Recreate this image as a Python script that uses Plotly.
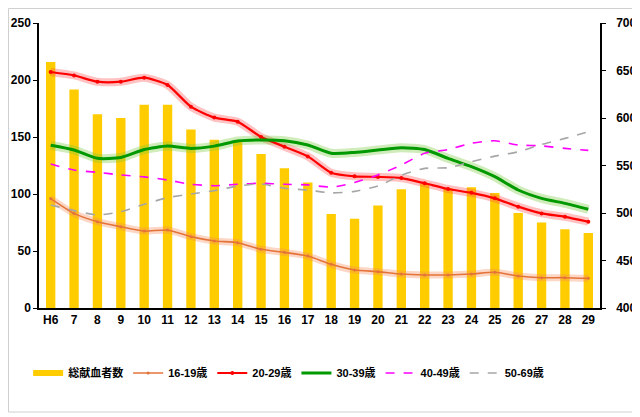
import plotly.graph_objects as go

categories = ["H6", "7", "8", "9", "10", "11", "12", "13", "14", "15", "16", "17",
              "18", "19", "20", "21", "22", "23", "24", "25", "26", "27", "28", "29"]

total_donors = [659, 630, 604, 600, 614, 614, 588, 577, 575, 562, 547, 532,
                499, 494, 508, 525, 531, 526, 527, 521, 500, 490, 483, 479]

age_16_19 = [96, 83, 75.7, 71.3, 67.5, 68.4, 62.6, 58.8, 57.3, 51.5, 48.8, 45.6,
             38.3, 33.3, 31.9, 29.8, 29, 29, 29.8, 31.3, 28, 26.6, 26.6, 26]
age_20_29 = [207, 204, 198.5, 198.5, 202, 195.6, 176.6, 167, 163.4, 150, 141.5, 133,
             118.7, 115.5, 115, 114, 109.4, 104.4, 101, 96.2, 88.9, 83, 80, 75.7]
age_30_39 = [142.7, 138.6, 131.3, 132, 139, 142, 140, 142, 146.5, 147.4, 146.8, 143,
             135.7, 136.5, 138.6, 140.6, 139, 131.3, 124, 115.2, 103.5, 96.2, 91.8, 86.6]
age_40_49 = [126.3, 121, 119, 116.7, 115, 112.3, 108.5, 107.3, 108.5, 109.4, 108.5, 108,
             106, 110, 116.7, 125.4, 135.7, 139, 144.5, 146.7, 143, 142.2, 140, 138.3]
age_50_69 = [90.4, 85.4, 81.6, 84.5, 91, 96.8, 100, 102.9, 107, 108.8, 105, 103.5,
             101, 102.3, 107, 116.5, 122.5, 123, 128.3, 133.2, 137, 143.5, 148.8, 154.5]

FONT = "Liberation Sans, Arial, Noto Sans CJK JP, sans-serif"

fig = go.Figure()

fig.add_trace(go.Bar(
    x=categories, y=total_donors, name="<b>総献血者数</b>",
    marker=dict(color="#FFCC00", line=dict(width=0)),
    yaxis="y", width=0.4, showlegend=False,
))
# legend proxy giving the wide flat swatch for the bars
fig.add_trace(go.Scatter(
    x=[categories[0]], y=[None], mode="lines", name="<b>総献血者数</b>",
    line=dict(color="#FFCC00", width=6), yaxis="y", hoverinfo="skip",
))

glow_specs = [
    (age_16_19, "rgba(245,140,90,0.35)", 7),
    (age_20_29, "rgba(255,80,80,0.35)", 8),
    (age_30_39, "rgba(120,200,60,0.35)", 9),
]
for vals, col, w in glow_specs:
    fig.add_trace(go.Scatter(
        x=categories, y=vals, mode="lines", yaxis="y2",
        line=dict(color=col, width=w, shape="spline", smoothing=0.6),
        showlegend=False, hoverinfo="skip",
    ))

line_specs = [
    ("16-19歳", age_16_19, "#E4733A", 1.6, "solid", 3),
    ("20-29歳", age_20_29, "#FF0000", 2.2, "solid", 4),
    ("30-39歳", age_30_39, "#009900", 3.0, "solid", 0),
    ("40-49歳", age_40_49, "#FF00FF", 1.6, "dash", 0),
    ("50-69歳", age_50_69, "#A6A6A6", 1.6, "dash", 0),
]
for name, vals, col, w, dash, ms in line_specs:
    fig.add_trace(go.Scatter(
        x=categories, y=vals, name="<b>" + name + "</b>", yaxis="y2",
        mode="lines+markers" if ms else "lines",
        line=dict(color=col, width=w, dash=dash, shape="spline", smoothing=0.6),
        marker=dict(size=ms, color=col),
    ))

axis_font = dict(family=FONT, size=12, color="#000000")

# the page body offsets the figure by 8px, so it is sized to fit the 640x417 window
L, R, T, B = 31, 40, 15, 109
W, H = 632, 409
PW, PH = W - L - R, H - T - B
fig.update_layout(
    width=W, height=H,
    margin=dict(l=L, r=R, t=T, b=B, autoexpand=False),
    paper_bgcolor="white", plot_bgcolor="white",
    font=dict(family=FONT, color="#000000"),
    bargap=0.6,
    showlegend=True,
    legend=dict(orientation="h", x=0.445, xanchor="center", y=-0.228, yanchor="middle",
                font=dict(family=FONT, size=11, color="#000000"),
                itemwidth=30, traceorder="normal", tracegroupgap=0),
    xaxis=dict(type="category", range=[-0.5, 23.5], showline=True, linecolor="#000000",
               linewidth=1.5, ticks="", tickfont=axis_font, showgrid=False, zeroline=False,
               tickprefix="<b>", ticksuffix="</b>"),
    yaxis=dict(side="right", range=[400, 700], dtick=50, showline=True,
               linecolor="#000000", linewidth=1.5, ticks="outside", ticklen=4,
               tickcolor="#000000", tickfont=axis_font, showgrid=False, zeroline=False,
               ticklabelstandoff=8, tickprefix="<b>", ticksuffix="</b>"),
    yaxis2=dict(side="left", overlaying="y", range=[0, 250], dtick=50, showline=True,
                linecolor="#000000", linewidth=1.5, ticks="outside", ticklen=4,
                tickcolor="#000000", tickfont=axis_font, showgrid=False, zeroline=False,
                ticklabelstandoff=0, tickprefix="<b>", ticksuffix="</b>"),
    shapes=[dict(type="rect", xref="paper", yref="paper",
                 x0=(0.5 - L) / PW, x1=(627 - L) / PW,
                 y0=(T + PH - 404) / PH, y1=(T + PH - 0.5) / PH,
                 line=dict(color="#D0D0D0", width=1), fillcolor="rgba(0,0,0,0)")],
)

fig.write_html("out.html")
